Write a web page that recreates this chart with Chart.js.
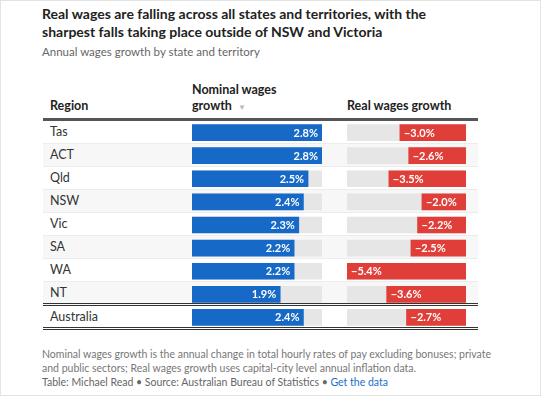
<!DOCTYPE html>
<html>
<head>
<meta charset="utf-8">
<script src="https://cdn.jsdelivr.net/npm/chart.js@4"></script>
<style>
  html, body { margin: 0; padding: 0; background: #fff; }
  body { font-family: Lato, "Noto Sans", sans-serif; color: #222; }
  #page { position: relative; width: 539px; height: 394px; border: 1px solid #e3e3e3; overflow: hidden; }
  .abs { position: absolute; white-space: nowrap; }
  #title { left: 41px; top: 4px; font-size: 14px; font-weight: 700; line-height: 18px; color: #222; }
  #sub { left: 41px; top: 44px; font-size: 11.5px; color: #666; }
  .hd { font-size: 12.5px; font-weight: 700; color: #222; line-height: 16px; }
  .tri { color: #bbb; font-size: 8px; margin-left: 6px; }
  #rows { left: 42px; top: 117px; width: 435px; }
  .rule { height: 3px; background: #555; }
  .row { height: 22px; border-bottom: 1px solid #ececec; font-size: 12.5px; color: #333; line-height: 22px; padding-left: 7px; }
  .row.alt { background: #f7f7f7; }
  .dbl { border-bottom: 3px double #333; }
  .canv { position: absolute; top: 120px; height: 208px; }
  #foot { left: 41px; top: 346px; font-size: 10.5px; color: #777; line-height: 14px; }
  #src { left: 41px; top: 375px; font-size: 10.5px; color: #666; }
  #src span { color: #1a6ec9; }
</style>
</head>
<body>
<div id="page">
  <div id="title" class="abs">Real wages are falling across all states and territories, with the<br>sharpest falls taking place outside of NSW and Victoria</div>
  <div id="sub" class="abs">Annual wages growth by state and territory</div>
  <div class="abs hd" style="left:49px; top:97px;">Region</div>
  <div class="abs hd" style="left:191px; top:81px;">Nominal wages<br>growth<span class="tri">&#9660;</span></div>
  <div class="abs hd" style="left:346px; top:97px;">Real wages growth</div>
  <div id="rows" class="abs"></div>
  <div class="canv" style="left:191px; width:130px;"><canvas id="nomChart"></canvas></div>
  <div class="canv" style="left:346px; width:119px;"><canvas id="realChart"></canvas></div>
  <div id="foot" class="abs">Nominal wages growth is the annual change in total hourly rates of pay excluding bonuses; private<br>and public sectors; Real wages growth uses capital-city level annual inflation data.</div>
  <div id="src" class="abs">Table: Michael Read &bull; Source: Australian Bureau of Statistics &bull; <span>Get the data</span></div>
</div>
<script>
// datos
const regions = ["Tas", "ACT", "Qld", "NSW", "Vic", "SA", "WA", "NT", "Australia"];
const nominalGrowth = [2.8, 2.8, 2.5, 2.4, 2.3, 2.2, 2.2, 1.9, 2.4];
const realGrowth = [-3.0, -2.6, -3.5, -2.0, -2.2, -2.5, -5.4, -3.6, -2.7];

const blue = "#1769c8";
const red = "#e03e38";
const track = "#e6e6e6";

// filas de la tabla (fondo, separadores y nombres)
const rowsEl = document.getElementById("rows");
rowsEl.innerHTML = '<div class="rule"></div>' + regions.map((r, i) => {
    let cls = "row";
    if (i % 2 === 1 && i < 8) cls += " alt";
    if (i === 7 || i === 8) cls += " dbl";
    return `<div class="${cls}"${i >= 7 ? ' style="height:21px;border-bottom-width:3px"' : ''}>${r}</div>`;
}).join("");

const fmt = v => (v < 0 ? "\u2212" + Math.abs(v).toFixed(1) : v.toFixed(1)) + "%";

// escribe el valor dentro de cada barra
const valueLabels = {
    id: "valueLabels",
    afterDatasetsDraw(chart) {
        const ctx = chart.ctx;
        const meta = chart.getDatasetMeta(0);
        ctx.save();
        ctx.font = "bold 11px Lato, sans-serif";
        ctx.fillStyle = "#fff";
        ctx.textBaseline = "middle";
        meta.data.forEach((bar, i) => {
            const v = chart.data.datasets[0].data[i];
            if (v >= 0) {
                ctx.textAlign = "right";
                ctx.fillText(fmt(v), bar.x - 4, bar.y + 0.5);
            } else {
                ctx.textAlign = "left";
                ctx.fillText(fmt(v), bar.x + 4, bar.y + 0.5);
            }
        });
        ctx.restore();
    }
};

function makeChart(id, values, color, min, max) {
    const trackValue = values.map(() => (min < 0 ? min : max));
    return new Chart(document.getElementById(id), {
        type: "bar",
        data: {
            labels: regions,
            datasets: [
                { data: values, backgroundColor: color, borderWidth: 0,
                  barThickness: 16, grouped: false, order: 1 },
                { data: trackValue, backgroundColor: track, barThickness: 16, grouped: false, order: 2 }
            ]
        },
        options: {
            indexAxis: "y",
            responsive: true,
            maintainAspectRatio: false,
            animation: false,
            layout: { padding: 0 },
            plugins: { legend: { display: false }, tooltip: { enabled: false } },
            scales: {
                x: { display: false, min: min, max: max },
                y: { display: false }
            }
        },
        plugins: [valueLabels]
    });
}

const nomChart = makeChart("nomChart", nominalGrowth, blue, 0, Math.max(...nominalGrowth));
const realChart = makeChart("realChart", realGrowth, red, Math.min(...realGrowth), 0);
</script>
</body>
</html>
